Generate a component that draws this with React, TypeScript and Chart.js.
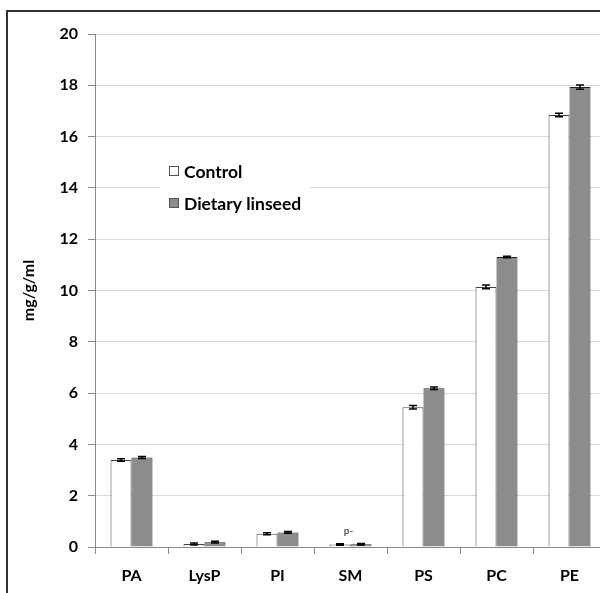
import React, { useEffect, useRef } from "react";
import { Chart, registerables } from "chart.js";

Chart.register(...registerables);

const categories = ["PA", "LysP", "PI", "SM", "PS", "PC", "PE"];
const controlValues = [3.39, 0.12, 0.52, 0.1, 5.45, 10.14, 16.84];
const linseedValues = [3.49, 0.19, 0.57, 0.11, 6.19, 11.31, 17.93];
const controlErrors = [0.05, 0.04, 0.04, 0.03, 0.07, 0.07, 0.07];
const linseedErrors = [0.04, 0.03, 0.03, 0.03, 0.05, 0.03, 0.08];
const yTicks = [0, 2, 4, 6, 8, 10, 12, 14, 16, 18, 20];
const seriesNames = ["Control", "Dietary linseed"];
const noteLabel = "p-";
const noteCategory = "SM";
const noteValue = 0.62;

const FONT = "Lato, 'Noto Sans', sans-serif";

const errorBarPlugin = {
  id: "errorBars",
  afterDatasetsDraw(chart: any) {
    const ctx = chart.ctx;
    const y = chart.scales.y;
    const errs = [controlErrors, linseedErrors];
    chart.data.datasets.forEach((ds: any, di: number) => {
      const meta = chart.getDatasetMeta(di);
      meta.data.forEach((bar: any, i: number) => {
        const v = ds.data[i];
        const e = errs[di][i];
        const yt = y.getPixelForValue(v + e);
        const yb = y.getPixelForValue(v - e);
        const x = bar.x;
        ctx.save();
        ctx.strokeStyle = "#000";
        ctx.lineWidth = 1.5;
        ctx.beginPath();
        ctx.moveTo(x, yt);
        ctx.lineTo(x, yb);
        ctx.moveTo(x - 4, yt);
        ctx.lineTo(x + 4, yt);
        ctx.moveTo(x - 4, yb);
        ctx.lineTo(x + 4, yb);
        ctx.stroke();
        ctx.restore();
      });
    });
  },
};

const extrasPlugin = {
  id: "extras",
  beforeDraw(chart: any) {
    const ctx = chart.ctx;
    ctx.save();
    ctx.fillStyle = "#fff";
    ctx.fillRect(0, 0, chart.width, chart.height);
    ctx.restore();
  },
  afterDraw(chart: any) {
    const ctx = chart.ctx;
    const xs = chart.scales.x;
    const ys = chart.scales.y;
    ctx.save();
    // outer frame
    ctx.strokeStyle = "#333";
    ctx.lineWidth = 2;
    ctx.beginPath();
    ctx.moveTo(7, chart.height + 5);
    ctx.lineTo(7, 11);
    ctx.lineTo(chart.width + 5, 11);
    ctx.stroke();

    // legend
    const lx = 160;
    const ly = 155;
    ctx.fillStyle = "#fff";
    ctx.fillRect(lx, ly, 150, 62);
    const fills = ["#ffffff", "#8c8c8c"];
    const rows = [171, 203];
    ctx.font = "bold 17.5px " + FONT;
    ctx.textBaseline = "middle";
    ctx.textAlign = "left";
    seriesNames.forEach((name, i) => {
      const cy = rows[i];
      ctx.fillStyle = fills[i];
      ctx.fillRect(169.5, cy - 4.5, 9, 9);
      ctx.strokeStyle = "#555";
      ctx.lineWidth = 1;
      ctx.strokeRect(169.5, cy - 4.5, 9, 9);
      ctx.fillStyle = "#000";
      ctx.fillText(name, 184, cy + 1);
    });

    // note above SM
    const ci = categories.indexOf(noteCategory);
    const nx = xs.getPixelForValue(ci);
    const ny = ys.getPixelForValue(noteValue);
    ctx.font = "bold 10px " + FONT;
    ctx.fillStyle = "#555";
    ctx.textAlign = "center";
    ctx.fillText(noteLabel, nx - 2, ny);
    ctx.restore();
  },
};

export default function App() {
  const ref = useRef<HTMLCanvasElement | null>(null);
  useEffect(() => {
    if (!ref.current) return;
    const chart = new Chart(ref.current, {
      type: "bar",
      data: {
        labels: categories,
        datasets: [
          {
            label: seriesNames[0],
            data: controlValues,
            backgroundColor: "#ffffff",
            borderColor: "#444",
            borderWidth: 1,
            categoryPercentage: 0.575,
            barPercentage: 1,
          },
          {
            label: seriesNames[1],
            data: linseedValues,
            backgroundColor: "#8c8c8c",
            borderColor: "#222",
            borderWidth: 1,
            categoryPercentage: 0.575,
            barPercentage: 1,
          },
        ],
      },
      options: {
        animation: false,
        responsive: false,
        maintainAspectRatio: false,
        layout: { padding: { left: 0, right: 14, top: 34, bottom: 0 } },
        plugins: {
          legend: { display: false },
          tooltip: { enabled: false },
        },
        scales: {
          x: {
            grid: {
              offset: true,
              drawOnChartArea: false,
              tickLength: 7,
              color: "#888",
            },
            border: { color: "#888", width: 1 },
            ticks: {
              color: "#000",
              font: { family: FONT, size: 16, weight: "bold" },
              padding: 12,
            },
            afterFit: (s: any) => {
              s.height = 46;
            },
          },
          y: {
            min: 0,
            max: 20,
            afterBuildTicks: (s: any) => {
              s.ticks = yTicks.map((v) => ({ value: v }));
            },
            grid: {
              color: "#d9d9d9",
              tickColor: "#888",
              tickLength: 7,
              drawTicks: true,
            },
            border: { color: "#888", width: 1 },
            ticks: {
              color: "#000",
              font: { family: FONT, size: 16, weight: "bold" },
              padding: 10,
            },
            title: {
              display: true,
              text: "mg/g/ml",
              color: "#000",
              font: { family: FONT, size: 16, weight: "bold" },
              padding: { top: 19, bottom: 0 },
            },
            afterFit: (s: any) => {
              s.width = 95;
            },
          },
        },
      },
      plugins: [extrasPlugin, errorBarPlugin],
    });
    return () => chart.destroy();
  }, []);
  return (
    <div
      style={{
        position: "fixed",
        left: 0,
        top: 0,
        width: 600,
        height: 593,
        overflow: "hidden",
        background: "#fff",
      }}
    >
      <canvas
        ref={ref}
        width={620}
        height={593}
        style={{ display: "block", width: 620, height: 593 }}
      />
    </div>
  );
}
